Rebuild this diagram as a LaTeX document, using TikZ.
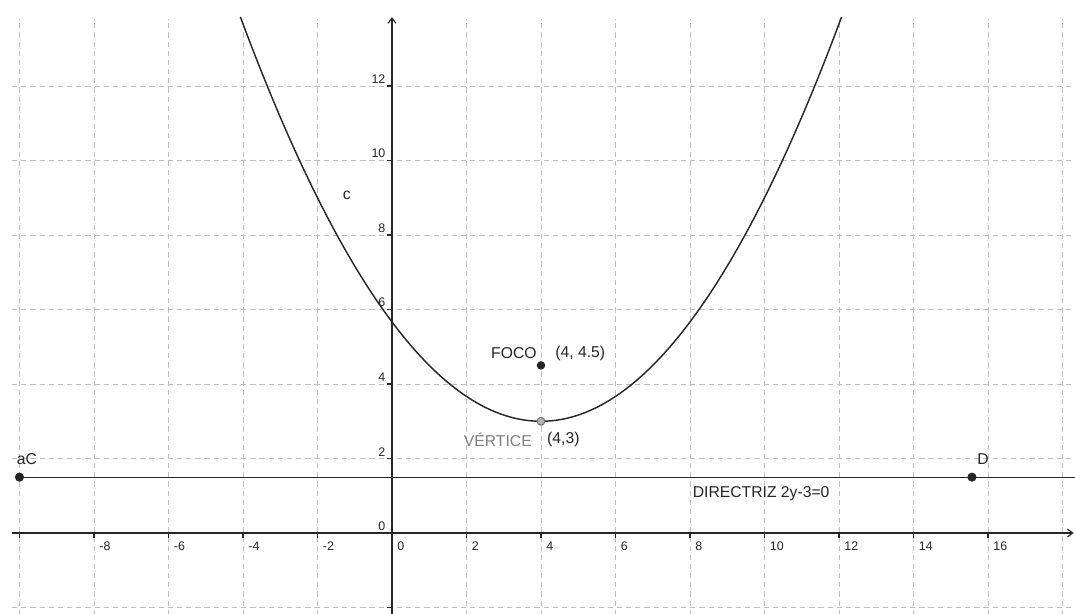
\documentclass[tikz,border=0pt]{standalone}
\usepackage{fontspec}
\setmainfont{Liberation Sans}
\usetikzlibrary{arrows.meta}
\begin{document}
\begin{tikzpicture}[x=1cm,y=1cm,
  gridline/.style={gray!50,line width=0.6pt,dash pattern=on 4pt off 3pt},
  axisline/.style={black!85,line width=0.9pt},
  curveline/.style={black!85,line width=1.1pt},
  tickline/.style={black!85,line width=0.8pt},
  xlab/.style={anchor=north west,inner sep=0pt,font=\fontsize{9.5}{10}\selectfont,text=black!85},
  ylab/.style={anchor=south east,inner sep=0pt,font=\fontsize{9.5}{10}\selectfont,text=black!85},
  lab/.style={inner sep=0pt,font=\fontsize{12}{13}\selectfont,text=black!85},
  dot/.style={circle,fill=black!85,inner sep=0pt,minimum size=7pt},
  vdot/.style={circle,fill=gray!60,draw=gray!90!black,line width=0.8pt,inner sep=0pt,minimum size=6pt}]
\fill[white] (-10.523,-2.148) rectangle (18.336,14.309);
\useasboundingbox (-10.523,-2.148) rectangle (18.336,14.309);
% grid
\foreach \gx in {-10,-8,...,18} \draw[gridline] (\gx,-2.2) -- (\gx,13.8);
\foreach \gy in {-2,2,4,...,12} \draw[gridline] (-10.2,\gy) -- (18.4,\gy);
% axes
\coordinate (xL) at (-10.2,0);
\coordinate (xR) at (18.3,0);
\coordinate (yB) at (0,-2.2);
\coordinate (yT) at (0,13.85);
\draw[axisline,-{Straight Barb[length=4pt,width=6pt]}] (xL) -- (xR);
\draw[axisline,-{Straight Barb[length=4pt,width=6pt]}] (yB) -- (yT);
\foreach \tx in {-10,-8,...,16} \draw[tickline] (\tx,0.04) -- (\tx,-0.14);
\foreach \tx in {-8,-6,...,16} \node[xlab] (xl\tx) at (\tx+0.14,-0.24) {\tx};
\foreach \ty in {-2,0,2,...,12} \draw[tickline] (0,\ty) -- (-0.14,\ty);
\foreach \ty in {0,2,...,12} \node[ylab] (yl\ty) at (-0.17,\ty+0.06) {\ty};
% parabola
\draw[curveline] plot[domain=-4.07:12.07,samples=120,smooth] (\x,{3+(\x-4)*(\x-4)/6});
\node[lab] (clab) at (-1.21,9.07) {c};
% directrix
\node[dot] (C) at (-10,1.5) {};
\node[dot] (D) at (15.57,1.5) {};
\coordinate (dirR) at (18.34,1.5);
\draw[axisline] (C.center) -- (dirR);
\node[lab] (Clab) at (-9.80,1.99) {aC};
\node[lab] (Dlab) at (15.87,1.99) {D};
\node[lab] (dirlab) at (9.91,1.05) {DIRECTRIZ 2y-3=0};
% focus and vertex
\node[dot,minimum size=6.5pt] (F) at (4,4.5) {};
\node[lab,anchor=east] (Flab) at (3.89,4.83) {FOCO};
\node[lab,anchor=west] (Fco) at (4.38,4.83) {(4, 4.5)};
\node[vdot] (V) at (4,3) {};
\node[lab,anchor=east,text=gray] (Vlab) at (3.76,2.50) {VÉRTICE};
\node[lab,anchor=west] (Vco) at (4.16,2.50) {(4,3)};
\end{tikzpicture}
\end{document}
